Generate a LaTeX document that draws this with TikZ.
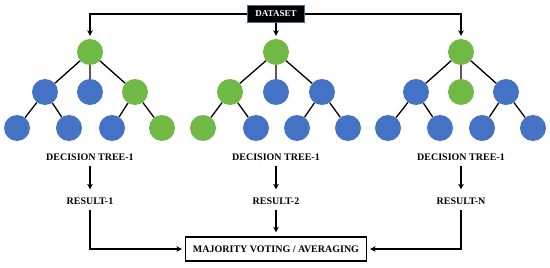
\documentclass[tikz,border=0pt]{standalone}
\usepackage{fontspec}
\setmainfont{Liberation Serif}
\usepackage{tikz}
\usetikzlibrary{arrows.meta,positioning}
\usepackage{xcolor}
\definecolor{leafgreen}{HTML}{70B944}
\definecolor{leafblue}{HTML}{4472C4}
\definecolor{databorder}{HTML}{4A6A9A}

\begin{document}
\begin{tikzpicture}[x=1pt,y=-1pt,>={Stealth[length=5.5pt,width=5.5pt,inset=1.5pt]},font=\bfseries,
bnode/.style={circle,fill=leafblue,minimum size=26pt,inner sep=0pt},
gnode/.style={circle,fill=leafgreen,minimum size=26pt,inner sep=0pt},
link/.style={line width=1.3pt},
tag/.style={font=\fontsize{10}{12}\selectfont\bfseries,inner sep=3pt},
data/.style={draw=databorder,line width=0.8pt,fill=black,text=white,minimum width=57pt,minimum height=17pt,inner sep=0pt,font=\fontsize{9}{11}\selectfont\bfseries},
vote/.style={draw,line width=1.2pt,minimum width=181pt,minimum height=24pt,inner sep=0pt,font=\fontsize{10}{12}\selectfont\bfseries},
arrow/.style={->,line width=1.2pt}]
\useasboundingbox (0,0) rectangle (550,268);
\node[data] (ds) at (276,14) {DATASET};
% tree 1
\node[gnode] (r1) at (90,52) {};
\node[bnode] (a1) at (45,92) {};
\node[bnode] (b1) at (90,92) {};
\node[gnode] (c1) at (135,92) {};
\node[bnode] (a1l) at (17,128) {};
\node[bnode] (a1r) at (69,128) {};
\node[bnode] (c1l) at (112,128) {};
\node[gnode] (c1r) at (162,128) {};
% tree 2
\node[gnode] (r2) at (276,52) {};
\node[gnode] (a2) at (230,92) {};
\node[bnode] (b2) at (276,92) {};
\node[bnode] (c2) at (322,92) {};
\node[gnode] (a2l) at (203,128) {};
\node[bnode] (a2r) at (256,128) {};
\node[bnode] (c2l) at (297,128) {};
\node[bnode] (c2r) at (348,128) {};
% tree 3
\node[gnode] (r3) at (461,52) {};
\node[bnode] (a3) at (416,92) {};
\node[gnode] (b3) at (461,92) {};
\node[bnode] (c3) at (506,92) {};
\node[bnode] (a3l) at (388,128) {};
\node[bnode] (a3r) at (440,128) {};
\node[bnode] (c3l) at (482,128) {};
\node[bnode] (c3r) at (533,128) {};
\draw[link] (r1)--(a1) (r1)--(b1) (r1)--(c1) (a1)--(a1l) (a1)--(a1r) (c1)--(c1l) (c1)--(c1r);
\draw[link] (r2)--(a2) (r2)--(b2) (r2)--(c2) (a2)--(a2l) (a2)--(a2r) (c2)--(c2l) (c2)--(c2r);
\draw[link] (r3)--(a3) (r3)--(b3) (r3)--(c3) (a3)--(a3l) (a3)--(a3r) (c3)--(c3l) (c3)--(c3r);
% labels and results
\node[tag] (t1) at (90,157) {DECISION TREE-1};
\node[tag] (t2) at (276,157) {DECISION TREE-1};
\node[tag] (t3) at (461,157) {DECISION TREE-1};
\node[tag] (s1) at (90,201) {RESULT-1};
\node[tag] (s2) at (276,201) {RESULT-2};
\node[tag] (s3) at (461,201) {RESULT-N};
\node[vote] (v) at (276,249) {MAJORITY VOTING / AVERAGING};
\draw[arrow,shorten >=3pt] (ds.west)-|(r1);
\draw[arrow,shorten >=3pt] (ds.east)-|(r3);
\draw[arrow,shorten >=3pt] (ds)--(r2);
\draw[arrow,shorten <=2pt,shorten >=5pt] (t1)--(s1);
\draw[arrow,shorten <=2pt,shorten >=5pt] (t2)--(s2);
\draw[arrow,shorten <=2pt,shorten >=5pt] (t3)--(s3);
\draw[arrow,shorten <=2pt,shorten >=3pt] (s1.south)|-(v.west);
\draw[arrow,shorten <=2pt,shorten >=3pt] (s3.south)|-(v.east);
\draw[arrow,shorten <=2pt,shorten >=4pt] (s2)--(v);
\end{tikzpicture}
\end{document}
